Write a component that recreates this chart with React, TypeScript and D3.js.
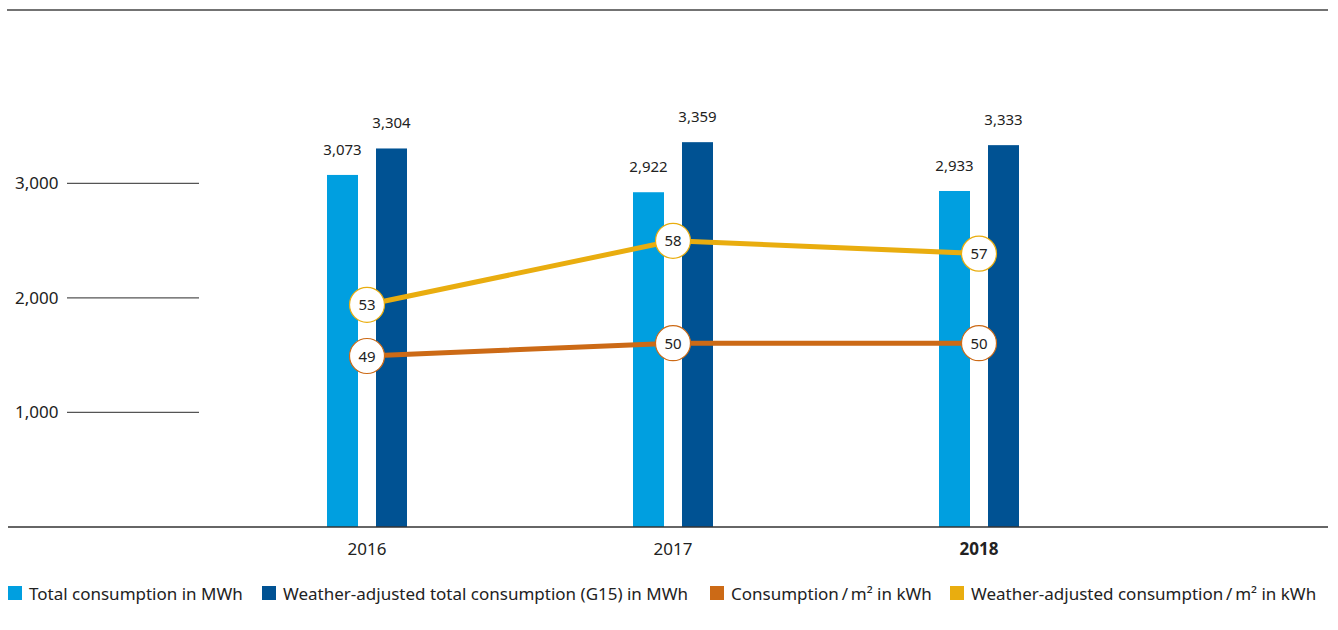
import React from "react";
import * as d3 from "d3";

const years = ["2016", "2017", "2018"];
const totalMWh = [3073, 2922, 2933];
const weatherAdjMWh = [3304, 3359, 3333];
const perM2 = [49, 50, 50];
const weatherAdjPerM2 = [53, 58, 57];
const yTicks = [1000, 2000, 3000];
const legendLabels = [
  "Total consumption in MWh",
  "Weather-adjusted total consumption (G15) in MWh",
  "Consumption\u2009/\u2009m\u00b2 in kWh",
  "Weather-adjusted consumption\u2009/\u2009m\u00b2 in kWh",
];

const C_LIGHT = "#009fe0";
const C_DARK = "#005293";
const C_ORANGE = "#cc6a16";
const C_YELLOW = "#e9ad0f";
const FONT = "'Noto Sans', 'Open Sans', sans-serif";

export default function App() {
  const W = 1338;
  const H = 630;
  const x = d3.scalePoint<string>().domain(years).range([367, 979]);
  const y = d3.scaleLinear().domain([0, 3000]).range([527, 183.3]);
  const y2 = d3.scaleLinear().domain([40, 60]).range([471.2, 215.2]);
  const barW = 31;
  const off = 24.5;
  const fmt = d3.format(",");
  const lineGen = d3
    .line<number>()
    .x((_, i) => x(years[i]) as number)
    .y((d) => y2(d));

  const legendX = [8, 262, 710, 950];
  const legendColors = [C_LIGHT, C_DARK, C_ORANGE, C_YELLOW];

  return (
    <svg
      width={W}
      height={H}
      style={{ position: "absolute", left: 0, top: 0, fontFamily: FONT }}
    >
      <rect width={W} height={H} fill="#fff" />
      <line x1={7} x2={1328} y1={10} y2={10} stroke="#444" strokeWidth={1.5} />
      {yTicks.map((t) => (
        <g key={t}>
          <line x1={67} x2={199} y1={y(t)} y2={y(t)} stroke="#555" strokeWidth={1.2} />
          <text x={15} y={y(t) + 6} fontSize={17} fill="#222">
            {fmt(t)}
          </text>
        </g>
      ))}
      {years.map((yr, i) => {
        const cx = x(yr) as number;
        return (
          <g key={yr}>
            <rect
              x={cx - off - barW / 2}
              y={y(totalMWh[i])}
              width={barW}
              height={y(0) - y(totalMWh[i])}
              fill={C_LIGHT}
            />
            <rect
              x={cx + off - barW / 2}
              y={y(weatherAdjMWh[i])}
              width={barW}
              height={y(0) - y(weatherAdjMWh[i])}
              fill={C_DARK}
            />
            <text
              x={cx - off}
              y={y(totalMWh[i]) - 20}
              textAnchor="middle"
              fontSize={15}
              fill="#222"
            >
              {fmt(totalMWh[i])}
            </text>
            <text
              x={cx + off}
              y={y(weatherAdjMWh[i]) - 20}
              textAnchor="middle"
              fontSize={15}
              fill="#222"
            >
              {fmt(weatherAdjMWh[i])}
            </text>
            <text
              x={cx}
              y={555}
              textAnchor="middle"
              fontSize={17}
              fontWeight={i === years.length - 1 ? "bold" : "normal"}
              fill="#222"
            >
              {yr}
            </text>
          </g>
        );
      })}
      <line x1={8} x2={1328} y1={527} y2={527} stroke="#333" strokeWidth={1.5} />
      <path d={lineGen(weatherAdjPerM2) || ""} fill="none" stroke={C_YELLOW} strokeWidth={5} />
      <path d={lineGen(perM2) || ""} fill="none" stroke={C_ORANGE} strokeWidth={5} />
      {[
        { vals: weatherAdjPerM2, color: C_YELLOW },
        { vals: perM2, color: C_ORANGE },
      ].map((s, si) =>
        s.vals.map((v, i) => {
          const cx = x(years[i]) as number;
          const cy = y2(v);
          return (
            <g key={`${si}-${i}`}>
              <circle cx={cx} cy={cy} r={17.5} fill="#fff" stroke={s.color} strokeWidth={1.2} />
              <text x={cx} y={cy + 5.5} textAnchor="middle" fontSize={15} fill="#222">
                {v}
              </text>
            </g>
          );
        })
      )}
      {legendLabels.map((lab, i) => (
        <g key={lab}>
          <rect x={legendX[i]} y={586} width={14} height={14} fill={legendColors[i]} />
          <text x={legendX[i] + 21} y={599.5} fontSize={17} fill="#222">
            {lab}
          </text>
        </g>
      ))}
    </svg>
  );
}
